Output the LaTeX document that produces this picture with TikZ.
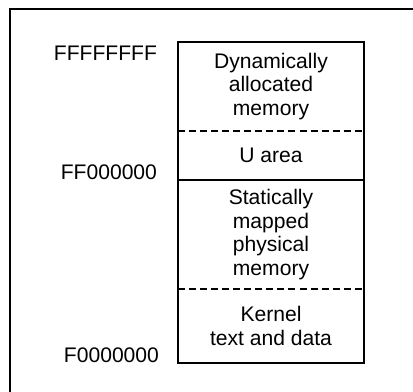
\documentclass[tikz,border=0pt]{standalone}
\usepackage{fontspec}
\setmainfont{Liberation Sans}
\usepackage{tikz}
\usetikzlibrary{positioning}

\begin{document}
\begin{tikzpicture}[
  font=\fontsize{21}{23.5}\selectfont,
  mem/.style={minimum width=6.51cm, inner sep=0pt, outer sep=0pt, align=center},
  addr/.style={anchor=east, inner sep=0pt},
  sep/.style={line width=1.4pt, dash pattern=on 7pt off 4pt}
]
\useasboundingbox (0,0) rectangle (14.455,13.72);
% outer frame, cut off by the page on the right and bottom
\draw[line width=1.2pt] (0.35,0) -- (0.35,13.405) -- (14.455,13.405);
\node[mem, minimum height=3.115cm] (dyn) at (9.485,10.6925) {Dynamically\\allocated\\memory};
\node[mem, minimum height=1.715cm, below=0cm of dyn] (uarea) {U area};
\node[mem, minimum height=3.815cm, below=0cm of uarea] (static) {Statically\\mapped\\physical\\memory};
\node[mem, minimum height=2.59cm, below=0cm of static] (kernel) {Kernel\\text and data};
\draw[line width=2pt] (dyn.north west) rectangle (kernel.south east);
\draw[sep] (dyn.south west) -- (dyn.south east);
\draw[line width=2pt] (uarea.south west) -- (uarea.south east);
\draw[sep] (static.south west) -- (static.south east);
\node[addr] (top) at (5.5,11.87) {FFFFFFFF};
\node[addr] (mid) at (5.5,7.7) {FF000000};
\node[addr] (base) at (5.57,1.295) {F0000000};
\end{tikzpicture}
\end{document}
